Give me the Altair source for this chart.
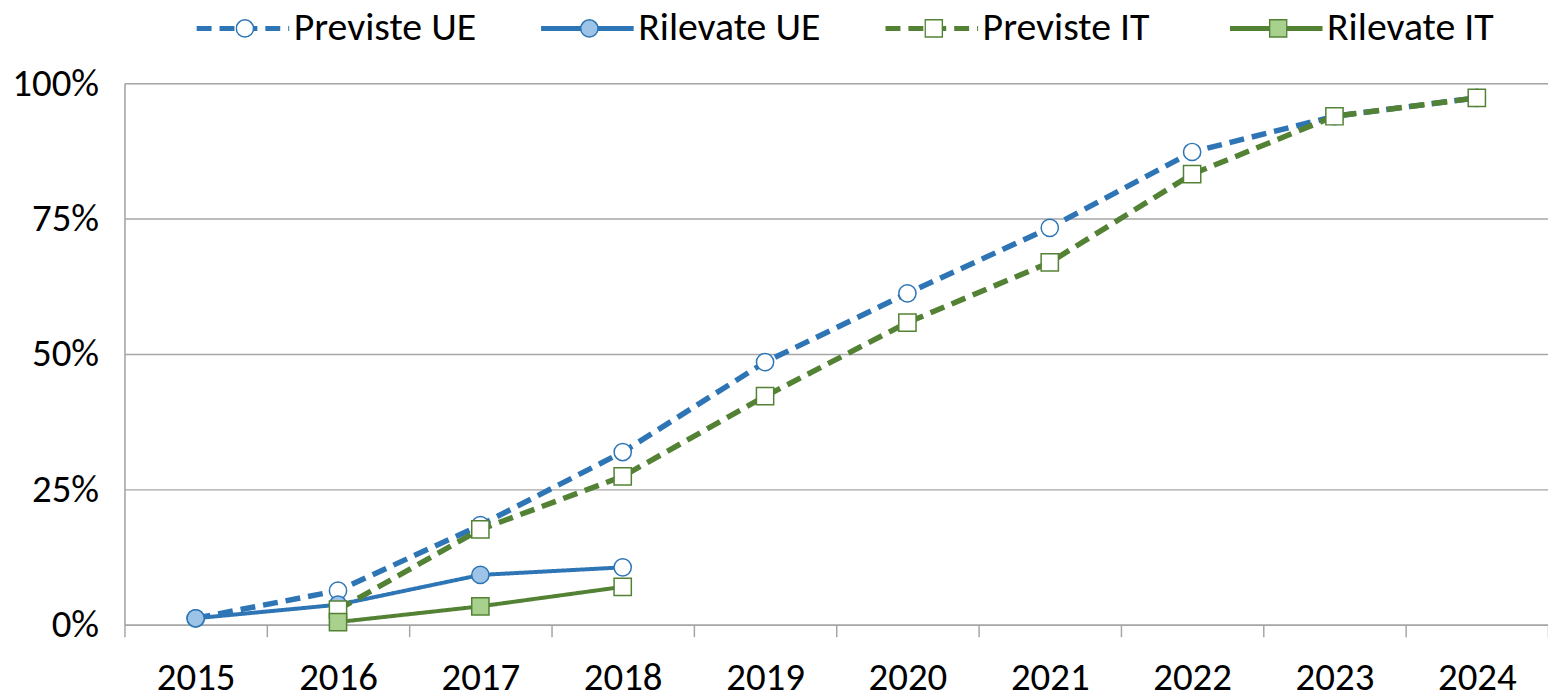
import altair as alt
import pandas as pd

# ---- data ------------------------------------------------------------------
years = ["2015", "2016", "2017", "2018", "2019", "2020", "2021", "2022", "2023", "2024"]
previste_ue = [1.2, 6.3, 18.4, 31.9, 48.5, 61.2, 73.3, 87.3, 93.9, 97.3]
rilevate_ue = [1.2, 3.7, 9.2, 10.6]
previste_it = [None, 2.8, 17.6, 27.4, 42.2, 55.8, 66.9, 83.2, 93.9, 97.3]
rilevate_it = [None, 0.5, 3.4, 7.0]
# last surveyed year is drawn with a hollow marker (estimate)
anni_stimati = ["2018"]

series = ["Previste UE", "Rilevate UE", "Previste IT", "Rilevate IT"]
values = [previste_ue, rilevate_ue, previste_it, rilevate_it]
line_colors = ["#2E75B6", "#2E75B6", "#548235", "#548235"]
marker_fills = ["white", "#9DC3E6", "white", "#A9D18E"]
shapes = ["circle", "circle", "square", "square"]
line_widths = [5.5, 4, 5.5, 4]
dashes = [[15, 8], [1, 0], [15, 8], [1, 0]]

# marker legend uses its own prefixed domain so it is not merged with the line legend
series_p = ["p:" + s for s in series]

rows = []
for s, sp, vals, col, fil in zip(series, series_p, values, line_colors, marker_fills):
    for y, v in zip(years, vals):
        if v is None:
            continue
        f = fil
        if s.startswith("Rilevate") and y in anni_stimati:
            f = "white"
        rows.append({"serie": s, "serie_p": sp, "anno": y, "valore": v / 100.0,
                     "fill": f, "stroke": col})
df = pd.DataFrame(rows)

FONT = "Carlito, Liberation Sans, Arial"
GRAY = "#A6A6A6"

x_enc = alt.X("anno:N",
              scale=alt.Scale(type="band", domain=years, paddingInner=0, paddingOuter=0),
              axis=alt.Axis(title=None, labelAngle=0, tickBand="extent", tickSize=12,
                            tickColor=GRAY, tickWidth=1.5, domainColor=GRAY, domainWidth=1.5,
                            labelPadding=22, labelFontSize=39, labelFont=FONT,
                            labelColor="black", grid=False))
y_enc = alt.Y("valore:Q",
              scale=alt.Scale(domain=[0, 1], nice=False, zero=True),
              axis=alt.Axis(title=None, values=[0, 0.25, 0.5, 0.75, 1], format=".0%",
                            ticks=False, tickSize=0, labelPadding=26, labelFontSize=39,
                            labelFont=FONT, labelColor="black", grid=True, gridColor=GRAY,
                            gridWidth=1.5, domainColor=GRAY, domainWidth=1.5))

LEG_Y = -75
CLIP_H = 40
LINE_LEG_X = 70
COLPAD = 62
SPACING = 346          # distance between legend entries (line legend: 284 + 62)
MARK_SIZE = 300
MARK_ENTRY = 19        # max(ceil(sqrt(300) + 1.5), labelFontSize)

line_legend = alt.Legend(
    title=None, orient="none", legendX=LINE_LEG_X, legendY=LEG_Y, direction="horizontal",
    columns=4, gridAlign="all", symbolType="stroke", symbolSize=93 * 93,
    symbolStrokeWidth=5,
    labelFont=FONT, labelFontSize=40, labelColor="black", labelOffset=2,
    columnPadding=COLPAD, padding=0, clipHeight=CLIP_H, labelLimit=400,
)

color_enc = alt.Color("serie:N", scale=alt.Scale(domain=series, range=line_colors),
                      legend=line_legend)
dash_enc = alt.StrokeDash("serie:N", scale=alt.Scale(domain=series, range=dashes),
                          legend=line_legend)

line_layers = []
for s, w in zip(series, line_widths):
    line_layers.append(
        alt.Chart(df).transform_filter(alt.datum.serie == s)
        .mark_line(strokeWidth=w, strokeCap="butt", strokeJoin="round")
        .encode(x=x_enc, y=y_enc, color=color_enc, strokeDash=dash_enc)
    )

fill_expr = ("indexof(datum.value, 'Rilevate UE') >= 0 ? '#9DC3E6' : "
             "(indexof(datum.value, 'Rilevate IT') >= 0 ? '#A9D18E' : 'white')")
stroke_expr = "indexof(datum.value, 'UE') >= 0 ? '#2E75B6' : '#548235'"

# markers sit in the middle of the 93px legend strokes
point_legend = alt.Legend(
    title=None, orient="none", legendX=LINE_LEG_X + 49 - MARK_ENTRY / 2 + 2, legendY=LEG_Y,
    direction="horizontal", columns=4, gridAlign="all",
    symbolSize=MARK_SIZE, symbolStrokeWidth=1.5,
    symbolFillColor={"expr": fill_expr}, symbolStrokeColor={"expr": stroke_expr},
    symbolOpacity=1, labelExpr="''", labelFontSize=10, labelOffset=0,
    columnPadding=SPACING - MARK_ENTRY, padding=0, clipHeight=CLIP_H,
)

points = alt.Chart(df).mark_point(filled=True, opacity=1, strokeWidth=1.5,
                                  size=MARK_SIZE).encode(
    x=x_enc,
    y=y_enc,
    shape=alt.Shape("serie_p:N", scale=alt.Scale(domain=series_p, range=shapes),
                    legend=point_legend),
    fill=alt.Fill("fill:N", scale=None),
    stroke=alt.Stroke("stroke:N", scale=None),
)

chart = alt.layer(*line_layers, points).properties(
    width=1430, height=544,
    autosize=alt.AutoSizeParams(type="none"),
    padding={"left": 117, "top": 74, "right": 0, "bottom": 70},
).configure_view(stroke=None).configure(background="white")

chart.save("out.html", embed_options={"renderer": "svg", "actions": False})
